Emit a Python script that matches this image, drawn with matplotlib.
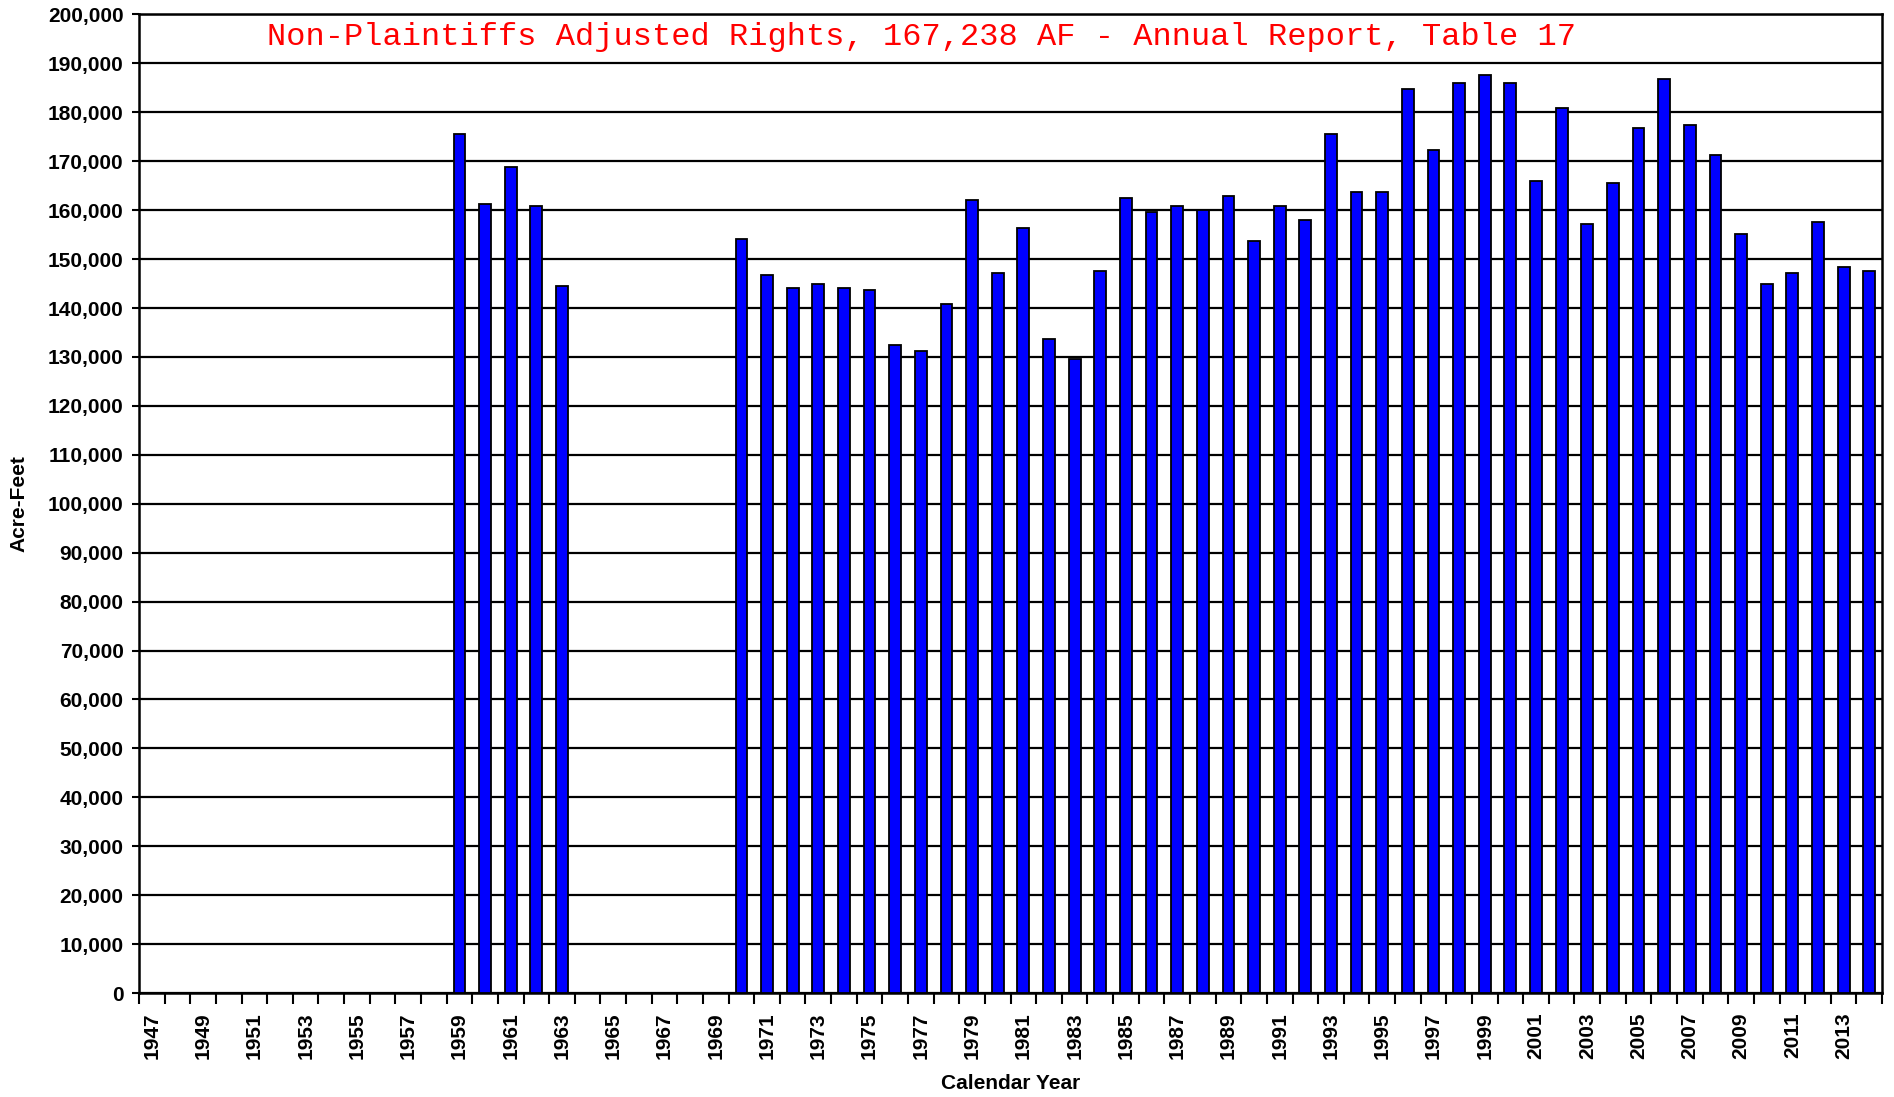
import matplotlib
matplotlib.use("Agg")
import matplotlib.pyplot as plt
import numpy as np

# Kategorie (lata kalendarzowe) i wartości w akro-stopach
years = list(range(1947, 2015))
acre_feet = [
    None, None, None, None, None, None, None, None, None, None, None, None,  # 1947-1958
    175500, 161200, 168800, 160800, 144600,                                  # 1959-1963
    None, None, None, None, None, None,                                      # 1964-1969
    154100, 146700, 144100, 145000, 144100, 143700, 132400, 131200, 140800,  # 1970-1978
    162100, 147100, 156300, 133700, 129600, 147600, 162500, 159600, 160900,  # 1979-1987
    160000, 163000, 153800, 160900, 158000, 175500, 163800, 163800, 184800,  # 1988-1996
    172200, 186000, 187600, 186000, 165900, 180900, 157200, 165500, 176800,  # 1997-2005
    186800, 177500, 171300, 155100, 145000, 147100, 157500, 148300, 147600,  # 2006-2014
]
title_text = "Non-Plaintiffs Adjusted Rights, 167,238 AF - Annual Report, Table 17"
y_ticks = list(range(0, 200001, 10000))
label_years = list(range(1947, 2015, 2))

vals = np.array([np.nan if v is None else v for v in acre_feet], dtype=float)
x = np.arange(len(years))

fig = plt.figure(figsize=(18.94, 10.97), dpi=100)
ax = fig.add_axes([0.0734, 0.0948, 0.9203, 0.892])

ax.bar(x, vals, width=0.46, color="#0000ff", edgecolor="black", linewidth=1.3, zorder=3)

# Osie i siatka
ax.set_xlim(-0.5, len(years) - 0.5)
ax.set_ylim(0, 200000)
ax.set_yticks(y_ticks)
ax.set_yticklabels([f"{v:,}" for v in y_ticks], fontsize=15, fontweight="bold",
                   family="Liberation Sans")
ax.yaxis.grid(True, color="black", linewidth=1.6, zorder=0)
ax.set_axisbelow(True)
ax.tick_params(axis="y", length=5, width=1.5, pad=6)

ax.set_xticks([years.index(y) for y in label_years])
ax.set_xticklabels([str(y) for y in label_years], rotation=90, fontsize=15,
                   fontweight="bold", family="Liberation Sans")
ax.set_xticks(np.arange(len(years) + 1) - 0.5, minor=True)
ax.tick_params(axis="x", which="major", length=0, pad=14)
ax.tick_params(axis="x", which="minor", length=8, width=1.5)

for s in ax.spines.values():
    s.set_linewidth(1.8)
    s.set_color("black")

ax.set_ylabel("Acre-Feet", fontsize=15, fontweight="bold", family="Liberation Sans", labelpad=14)
ax.set_xlabel("Calendar Year", fontsize=15, fontweight="bold", family="Liberation Sans", labelpad=11)

ax.text(0.449, 0.977, title_text, transform=ax.transAxes, ha="center", va="center",
        color="red", fontsize=23, family="Liberation Mono")

fig.savefig("out.png", dpi=100)
